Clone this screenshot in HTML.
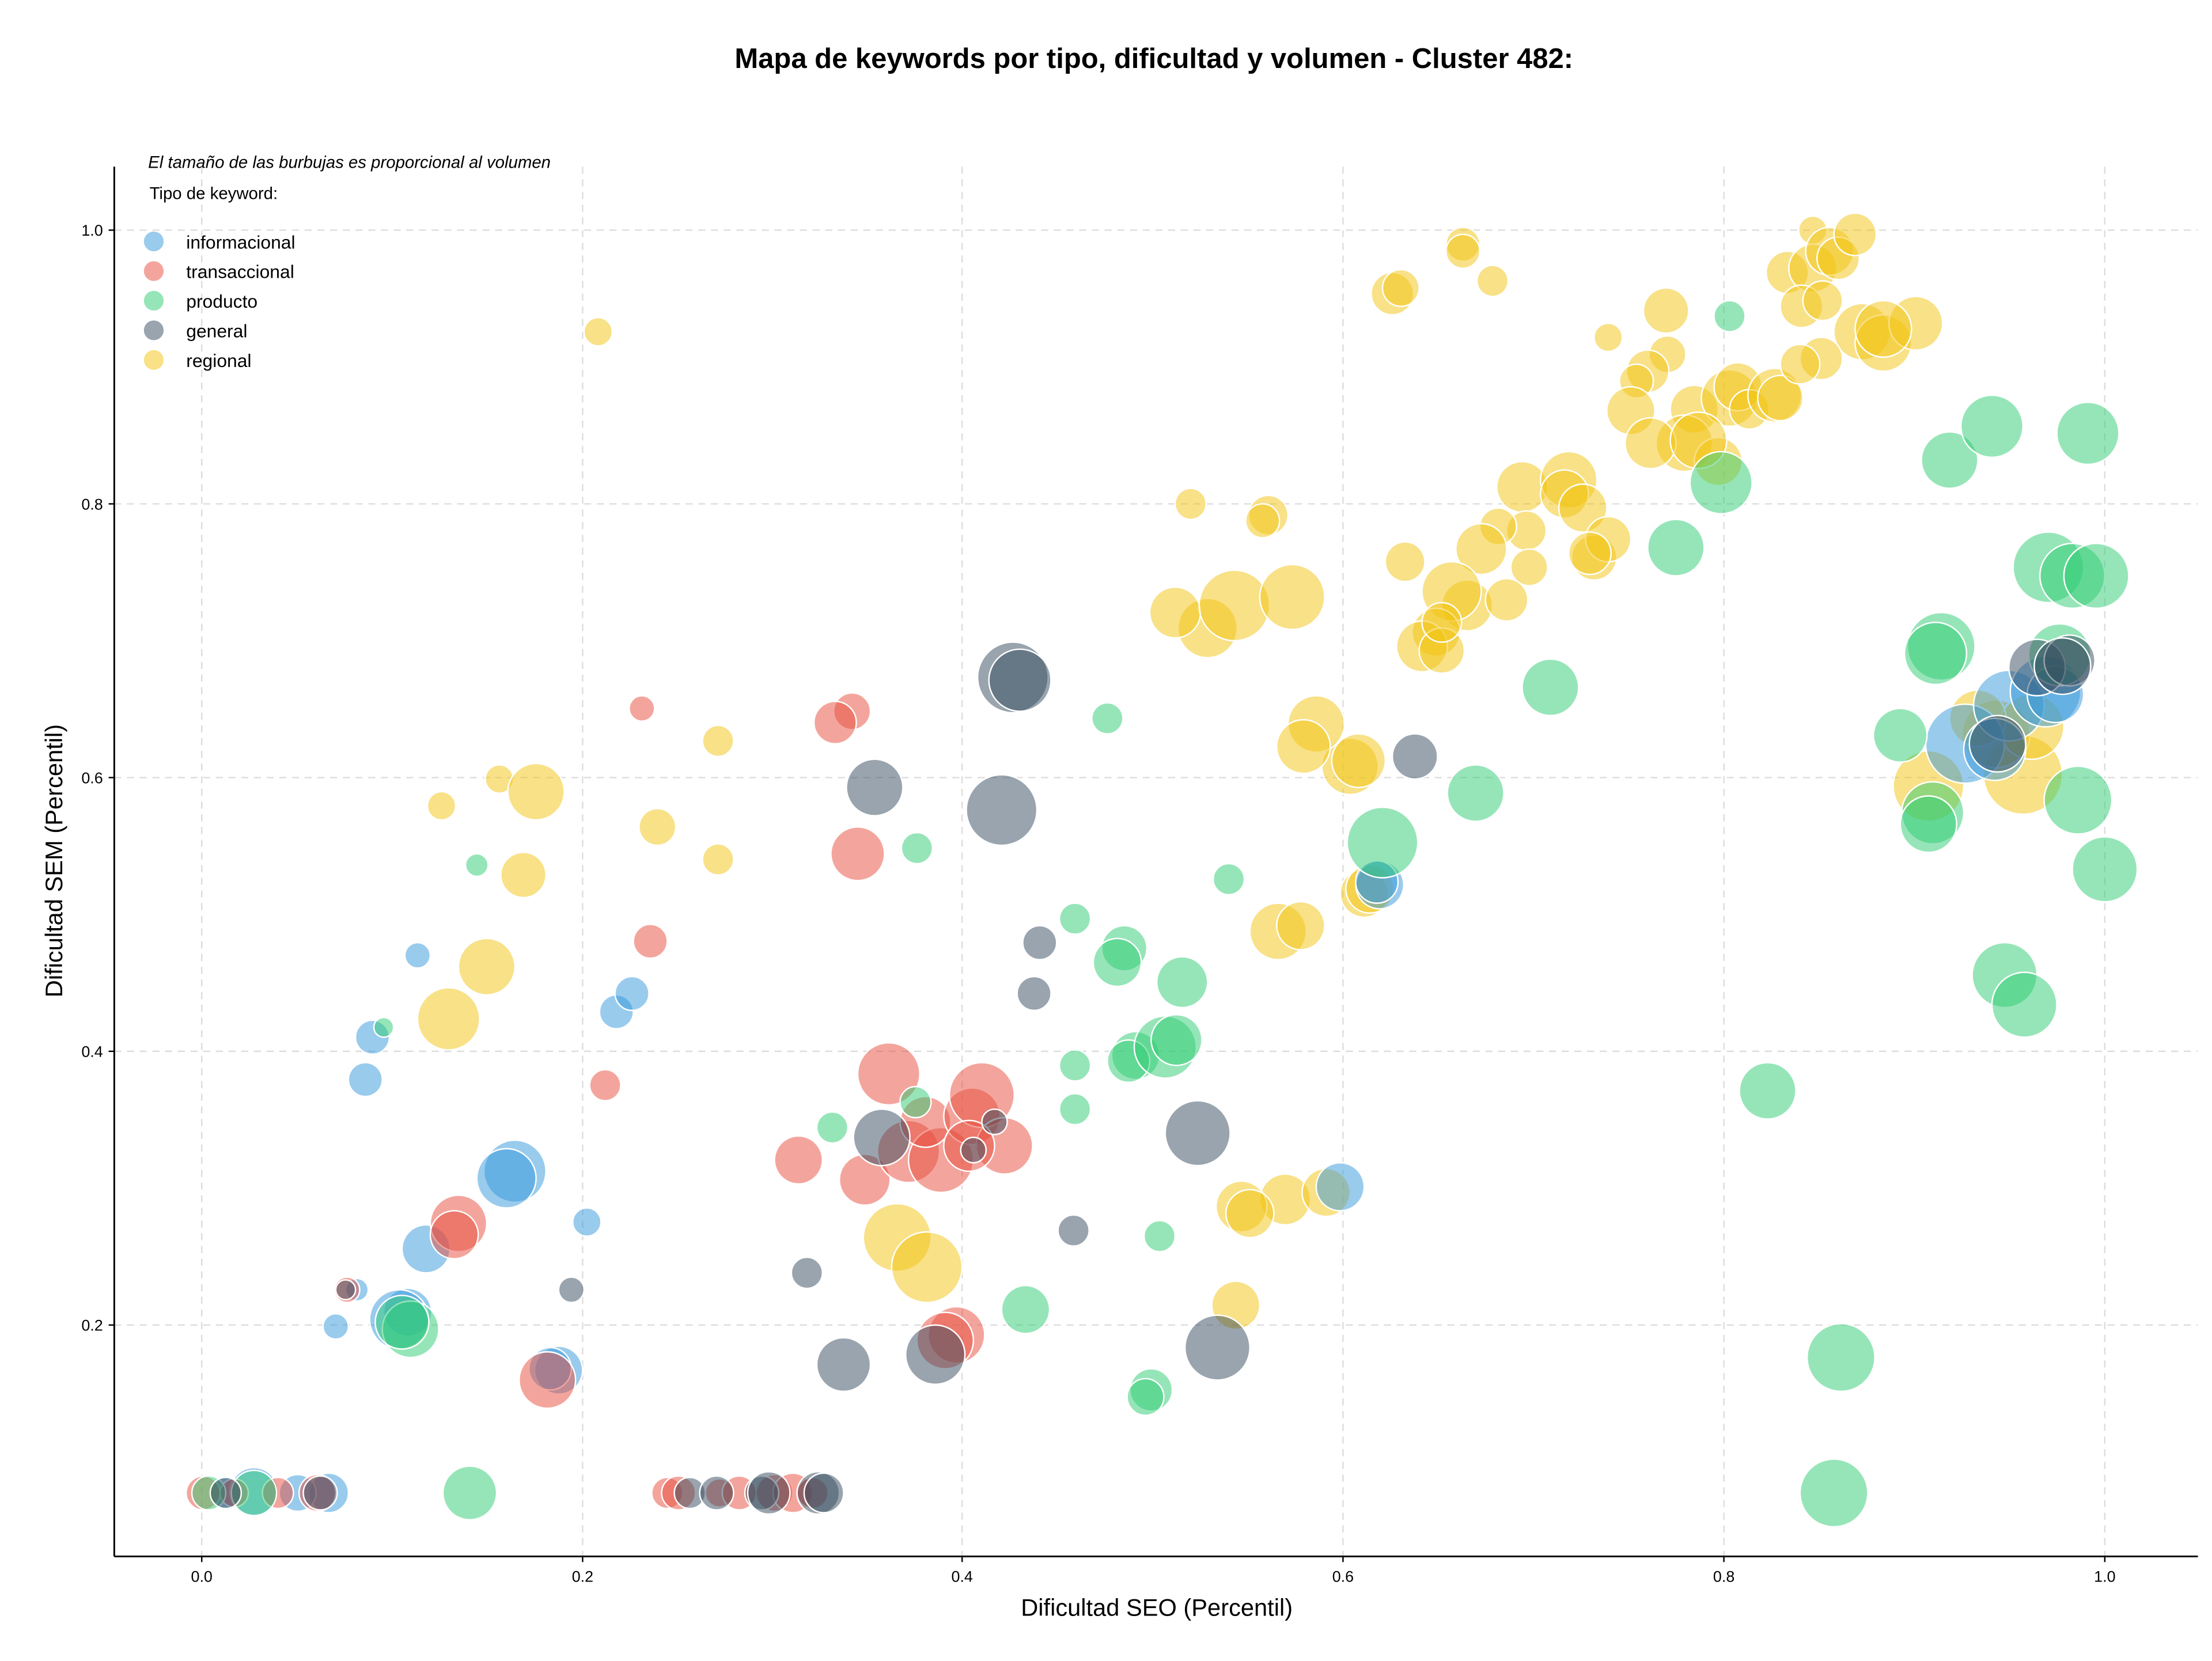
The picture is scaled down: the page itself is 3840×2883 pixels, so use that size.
<!DOCTYPE html>
<html><head><meta charset="utf-8"><style>html,body{margin:0;padding:0;background:#fff}svg{display:block}text{font-family:"Liberation Sans","DejaVu Sans",sans-serif}</style></head>
<body>
<svg width="3840" height="2883" viewBox="0 0 1568 1177" xmlns="http://www.w3.org/2000/svg">
<rect width="1568" height="1177" fill="#fff"/>
<text x="818" y="48" text-anchor="middle" font-size="20" font-weight="bold">Mapa de keywords por tipo, dificultad y volumen - Cluster 482:</text>
<g stroke="#ddd" stroke-width="1" stroke-dasharray="5,4">
<line x1="143" y1="118" x2="143" y2="1103"/><line x1="413" y1="118" x2="413" y2="1103"/><line x1="682" y1="118" x2="682" y2="1103"/><line x1="952" y1="118" x2="952" y2="1103"/><line x1="1222" y1="118" x2="1222" y2="1103"/><line x1="1492" y1="118" x2="1492" y2="1103"/>
<line x1="81" y1="939" x2="1558" y2="939"/><line x1="81" y1="745" x2="1558" y2="745"/><line x1="81" y1="551" x2="1558" y2="551"/><line x1="81" y1="357" x2="1558" y2="357"/><line x1="81" y1="163" x2="1558" y2="163"/>
</g>
<g id="bub" stroke="#fff" stroke-width="1" fill-opacity="0.5">
<g fill="#f1c40f">
<circle cx="424" cy="235" r="10"/><circle cx="354" cy="552" r="10"/><circle cx="313" cy="571" r="10"/><circle cx="509" cy="525" r="11"/><circle cx="509" cy="609" r="11"/><circle cx="466" cy="586" r="13"/><circle cx="380" cy="561" r="20"/><circle cx="371" cy="620" r="16"/><circle cx="345" cy="685" r="20"/><circle cx="318" cy="722" r="22"/><circle cx="1037" cy="173" r="12"/><circle cx="1037" cy="178" r="12"/><circle cx="1058" cy="199" r="11"/><circle cx="987" cy="208" r="15"/><circle cx="993" cy="204" r="13"/><circle cx="844" cy="357" r="11"/><circle cx="899" cy="365" r="14"/><circle cx="895" cy="369" r="12"/><circle cx="1140" cy="239" r="10"/><circle cx="1181" cy="220" r="16"/><circle cx="1182" cy="251" r="13"/><circle cx="1168" cy="263" r="15"/><circle cx="1160" cy="270" r="12"/><circle cx="1156" cy="291" r="17"/><circle cx="1201" cy="290" r="17"/><circle cx="1194" cy="314" r="20"/><circle cx="1170" cy="314" r="18"/><circle cx="1226" cy="282" r="20"/><circle cx="1232" cy="274" r="17"/><circle cx="1240" cy="290" r="14"/><circle cx="1258" cy="280" r="19"/><circle cx="1262" cy="282" r="16"/><circle cx="1267" cy="193" r="15"/><circle cx="1285" cy="190" r="17"/><circle cx="1277" cy="217" r="15"/><circle cx="1292" cy="213" r="14"/><circle cx="1285" cy="163" r="10"/><circle cx="1297" cy="178" r="17"/><circle cx="1303" cy="183" r="15"/><circle cx="1315" cy="166" r="15"/><circle cx="1320" cy="235" r="20"/><circle cx="1335" cy="243" r="20"/><circle cx="1358" cy="229" r="19"/><circle cx="1335" cy="233" r="20"/><circle cx="1291" cy="254" r="15"/><circle cx="1276" cy="258" r="14"/><circle cx="1218" cy="327" r="17"/><circle cx="1204" cy="312" r="20"/><circle cx="1079" cy="345" r="18"/><circle cx="1082" cy="376" r="14"/><circle cx="1062" cy="373" r="13"/><circle cx="1050" cy="389" r="18"/><circle cx="1040" cy="429" r="18"/><circle cx="1068" cy="425" r="15"/><circle cx="1029" cy="419" r="21"/><circle cx="1018" cy="448" r="17"/><circle cx="1008" cy="458" r="18"/><circle cx="1112" cy="340" r="20"/><circle cx="1109" cy="350" r="17"/><circle cx="1122" cy="360" r="17"/><circle cx="1130" cy="395" r="16"/><circle cx="1140" cy="382" r="16"/><circle cx="1127" cy="392" r="15"/><circle cx="996" cy="398" r="14"/><circle cx="1022" cy="461" r="16"/><circle cx="1022" cy="441" r="14"/><circle cx="1084" cy="402" r="13"/><circle cx="856" cy="445" r="21"/><circle cx="833" cy="434" r="18"/><circle cx="875" cy="429" r="25"/><circle cx="916" cy="423" r="23"/><circle cx="957" cy="543" r="20"/><circle cx="963" cy="539" r="19"/><circle cx="967" cy="633" r="17"/><circle cx="971" cy="630" r="17"/><circle cx="911" cy="850" r="18"/><circle cx="940" cy="845" r="17"/><circle cx="880" cy="855" r="18"/><circle cx="886" cy="860" r="17"/><circle cx="876" cy="925" r="17"/><circle cx="933" cy="513" r="20"/><circle cx="924" cy="529" r="19"/><circle cx="906" cy="660" r="20"/><circle cx="922" cy="656" r="17"/><circle cx="636" cy="877" r="24"/><circle cx="657" cy="898" r="25"/><circle cx="1367" cy="557" r="25"/><circle cx="1434" cy="549" r="28"/><circle cx="1415" cy="520" r="24"/><circle cx="1440" cy="515" r="23"/><circle cx="1402" cy="509" r="20"/>
</g>
<g fill="#3498db">
<circle cx="296" cy="677" r="9"/><circle cx="264" cy="735" r="12"/><circle cx="259" cy="765" r="12"/><circle cx="238" cy="940" r="9"/><circle cx="253" cy="914" r="8"/><circle cx="289" cy="930" r="17"/><circle cx="283" cy="935" r="21"/><circle cx="302" cy="885" r="17"/><circle cx="365" cy="830" r="22"/><circle cx="359" cy="835" r="21"/><circle cx="416" cy="866" r="10"/><circle cx="437" cy="717" r="12"/><circle cx="448" cy="704" r="12"/><circle cx="396" cy="971" r="17"/><circle cx="390" cy="970" r="15"/><circle cx="950" cy="841" r="17"/><circle cx="978" cy="627" r="17"/><circle cx="976" cy="625" r="15"/><circle cx="1393" cy="527" r="28"/><circle cx="1424" cy="500" r="25"/><circle cx="1450" cy="490" r="25"/><circle cx="1457" cy="492" r="20"/><circle cx="160" cy="1058" r="12"/><circle cx="180" cy="1057" r="17"/><circle cx="233" cy="1058" r="14"/><circle cx="211" cy="1058" r="13"/><circle cx="1414" cy="531" r="22"/>
</g>
<g fill="#e74c3c">
<circle cx="455" cy="502" r="9"/><circle cx="604" cy="504" r="13"/><circle cx="592" cy="512" r="15"/><circle cx="608" cy="605" r="19"/><circle cx="461" cy="667" r="12"/><circle cx="429" cy="769" r="11"/><circle cx="566" cy="822" r="17"/><circle cx="613" cy="836" r="18"/><circle cx="630" cy="761" r="22"/><circle cx="644" cy="816" r="22"/><circle cx="667" cy="822" r="23"/><circle cx="656" cy="795" r="18"/><circle cx="689" cy="791" r="20"/><circle cx="696" cy="776" r="23"/><circle cx="712" cy="812" r="20"/><circle cx="687" cy="812" r="18"/><circle cx="678" cy="946" r="20"/><circle cx="670" cy="950" r="20"/><circle cx="325" cy="867" r="20"/><circle cx="322" cy="875" r="17"/><circle cx="388" cy="978" r="20"/><circle cx="246" cy="914" r="9"/><circle cx="144" cy="1058" r="12"/><circle cx="166" cy="1058" r="10"/><circle cx="197" cy="1058" r="11"/><circle cx="225" cy="1058" r="13"/><circle cx="473" cy="1058" r="11"/><circle cx="481" cy="1058" r="12"/><circle cx="510" cy="1058" r="10"/><circle cx="524" cy="1058" r="12"/><circle cx="549" cy="1058" r="13"/><circle cx="562" cy="1058" r="14"/><circle cx="576" cy="1058" r="11"/>
</g>
<g fill="#2ecc71">
<circle cx="338" cy="613" r="8"/><circle cx="272" cy="728" r="7"/><circle cx="291" cy="942" r="20"/><circle cx="285" cy="937" r="19"/><circle cx="333" cy="1058" r="19"/><circle cx="148" cy="1058" r="12"/><circle cx="180" cy="1058" r="16"/><circle cx="650" cy="601" r="11"/><circle cx="649" cy="781" r="11"/><circle cx="590" cy="799" r="11"/><circle cx="785" cy="509" r="11"/><circle cx="762" cy="651" r="11"/><circle cx="762" cy="755" r="11"/><circle cx="762" cy="786" r="11"/><circle cx="797" cy="672" r="16"/><circle cx="792" cy="682" r="17"/><circle cx="805" cy="748" r="17"/><circle cx="800" cy="752" r="15"/><circle cx="826" cy="742" r="22"/><circle cx="834" cy="737" r="18"/><circle cx="838" cy="696" r="18"/><circle cx="822" cy="876" r="11"/><circle cx="727" cy="928" r="17"/><circle cx="816" cy="985" r="15"/><circle cx="812" cy="990" r="13"/><circle cx="871" cy="623" r="11"/><circle cx="980" cy="597" r="25"/><circle cx="1046" cy="562" r="20"/><circle cx="1099" cy="487" r="20"/><circle cx="1188" cy="388" r="20"/><circle cx="1220" cy="342" r="22"/><circle cx="1226" cy="224" r="11"/><circle cx="1382" cy="326" r="20"/><circle cx="1412" cy="302" r="22"/><circle cx="1480" cy="307" r="22"/><circle cx="1452" cy="402" r="25"/><circle cx="1469" cy="408" r="23"/><circle cx="1486" cy="408" r="23"/><circle cx="1376" cy="458" r="24"/><circle cx="1372" cy="463" r="22"/><circle cx="1347" cy="521" r="19"/><circle cx="1370" cy="576" r="22"/><circle cx="1367" cy="584" r="20"/><circle cx="1460" cy="464" r="22"/><circle cx="1473" cy="567" r="24"/><circle cx="1492" cy="616" r="23"/><circle cx="1421" cy="691" r="23"/><circle cx="1435" cy="712" r="23"/><circle cx="1253" cy="773" r="20"/><circle cx="1305" cy="962" r="24"/><circle cx="1300" cy="1058" r="24"/>
</g>
<g fill="#34495e">
<circle cx="737" cy="668" r="12"/><circle cx="733" cy="704" r="12"/><circle cx="620" cy="558" r="20"/><circle cx="710" cy="574" r="25"/><circle cx="718" cy="480" r="25"/><circle cx="723" cy="482" r="22"/><circle cx="625" cy="806" r="20"/><circle cx="690" cy="815" r="9"/><circle cx="705" cy="795" r="9"/><circle cx="572" cy="902" r="11"/><circle cx="598" cy="967" r="19"/><circle cx="663" cy="960" r="21"/><circle cx="761" cy="872" r="11"/><circle cx="849" cy="803" r="23"/><circle cx="863" cy="955" r="23"/><circle cx="1003" cy="536" r="16"/><circle cx="405" cy="914" r="9"/><circle cx="245" cy="914" r="7"/><circle cx="65" cy="1058" r="0"/><circle cx="489" cy="1058" r="11"/><circle cx="508" cy="1058" r="12"/><circle cx="540" cy="1058" r="12"/><circle cx="545" cy="1058" r="15"/><circle cx="580" cy="1058" r="15"/><circle cx="584" cy="1058" r="14"/><circle cx="160" cy="1058" r="11"/><circle cx="227" cy="1058" r="12"/><circle cx="1416" cy="527" r="20"/><circle cx="1444" cy="473" r="20"/><circle cx="1467" cy="468" r="18"/><circle cx="1462" cy="472" r="20"/>
</g>
</g>
<g stroke="#000" stroke-width="1.2" fill="none"><line x1="81" y1="118" x2="81" y2="1103"/><line x1="81" y1="1103" x2="1558" y2="1103"/></g>
<g stroke="#000" stroke-width="1">
<line x1="143" y1="1103" x2="143" y2="1107"/><line x1="413" y1="1103" x2="413" y2="1107"/><line x1="682" y1="1103" x2="682" y2="1107"/><line x1="952" y1="1103" x2="952" y2="1107"/><line x1="1222" y1="1103" x2="1222" y2="1107"/><line x1="1492" y1="1103" x2="1492" y2="1107"/>
<line x1="77" y1="939" x2="81" y2="939"/><line x1="77" y1="745" x2="81" y2="745"/><line x1="77" y1="551" x2="81" y2="551"/><line x1="77" y1="357" x2="81" y2="357"/><line x1="77" y1="163" x2="81" y2="163"/>
</g>
<g font-size="11" text-anchor="middle">
<text x="143" y="1121">0.0</text><text x="413" y="1121">0.2</text><text x="682" y="1121">0.4</text><text x="952" y="1121">0.6</text><text x="1222" y="1121">0.8</text><text x="1492" y="1121">1.0</text>
</g>
<g font-size="11" text-anchor="end">
<text x="73" y="943">0.2</text><text x="73" y="749">0.4</text><text x="73" y="555">0.6</text><text x="73" y="361">0.8</text><text x="73" y="167">1.0</text>
</g>
<text x="820" y="1145" text-anchor="middle" font-size="17">Dificultad SEO (Percentil)</text>
<text transform="translate(44,610) rotate(-90)" text-anchor="middle" font-size="17">Dificultad SEM (Percentil)</text>
<text x="105" y="119" font-size="12" font-style="italic">El tamaño de las burbujas es proporcional al volumen</text>
<text x="106" y="141" font-size="12">Tipo de keyword:</text>
<g font-size="13">
<circle cx="109" cy="171" r="7" fill="#3498db" fill-opacity="0.5"/><text x="132" y="176">informacional</text>
<circle cx="109" cy="192" r="7" fill="#e74c3c" fill-opacity="0.5"/><text x="132" y="197">transaccional</text>
<circle cx="109" cy="213" r="7" fill="#2ecc71" fill-opacity="0.5"/><text x="132" y="218">producto</text>
<circle cx="109" cy="234" r="7" fill="#34495e" fill-opacity="0.5"/><text x="132" y="239">general</text>
<circle cx="109" cy="255" r="7" fill="#f1c40f" fill-opacity="0.5"/><text x="132" y="260">regional</text>
</g>
</svg>
</body></html>
